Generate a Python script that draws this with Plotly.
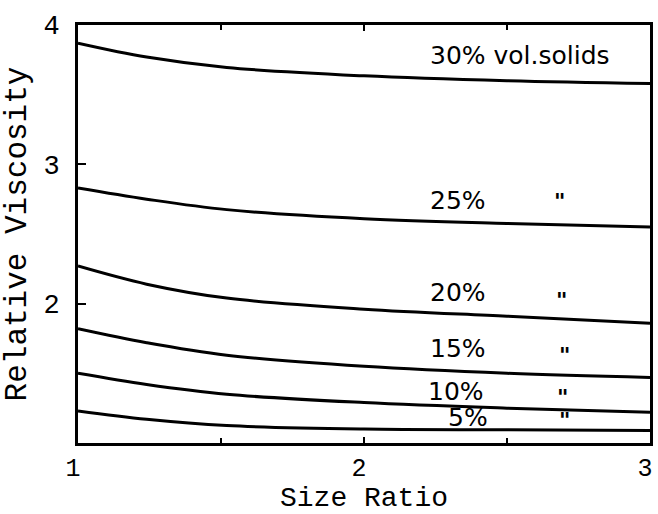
import plotly.graph_objects as go

# Size ratio sample positions shared by all curves
size_ratio = [1.0, 1.24, 1.52, 2.0, 2.5, 3.0]

# Relative viscosity for each solids concentration
visc_30 = [3.87, 3.77, 3.695, 3.635, 3.60, 3.58]
visc_25 = [2.83, 2.75, 2.675, 2.61, 2.575, 2.55]
visc_20 = [2.27, 2.14, 2.04, 1.96, 1.91, 1.86]
visc_15 = [1.82, 1.72, 1.63, 1.55, 1.50, 1.47]
visc_10 = [1.50, 1.42, 1.35, 1.29, 1.25, 1.22]
visc_05 = [1.23, 1.17, 1.125, 1.10, 1.095, 1.09]

# Curve labels and where they sit
label_text = ["30% vol.solids", "25%", "20%", "15%", "10%", "5%"]
label_x = [2.224, 2.224, 2.224, 2.224, 2.217, 2.287]
label_y = [3.78, 2.74, 2.08, 1.68, 1.37, 1.18]
ditto_x = [2.683, 2.69, 2.70, 2.695, 2.70]
ditto_y = [2.73, 2.02, 1.63, 1.33, 1.165]

x_ticks = [1, 2, 3]
y_ticks = [2, 3, 4]

mono = "Liberation Mono, Courier New, monospace"
hand = "DejaVu Sans, Noto Sans, sans-serif"

fig = go.Figure()
for series in [visc_30, visc_25, visc_20, visc_15, visc_10, visc_05]:
    fig.add_trace(go.Scatter(
        x=size_ratio, y=series, mode="lines",
        line=dict(color="black", width=3, shape="spline", smoothing=1.0),
        showlegend=False, hoverinfo="skip",
    ))

for t, x, y in zip(label_text, label_x, label_y):
    fig.add_annotation(x=x, y=y, text=t, showarrow=False, xanchor="left",
                       yanchor="middle",
                       font=dict(family=hand, size=25, color="black"))
for x, y in zip(ditto_x, ditto_y):
    fig.add_annotation(x=x, y=y, text="<b>\"</b>", showarrow=False,
                       xanchor="center", yanchor="middle",
                       font=dict(family=hand, size=22, color="black"))

# Horizontal axis title, set just below the tick labels
fig.add_annotation(x=0.5, y=0, xref="paper", yref="paper", yshift=-55,
                   text="Size Ratio", showarrow=False, xanchor="center",
                   yanchor="middle", font=dict(family=mono, size=28))

fig.update_layout(
    width=658, height=514,
    margin=dict(l=78, r=5, t=25, b=71),
    paper_bgcolor="white", plot_bgcolor="white",
    font=dict(family=mono, color="black"),
)
fig.update_xaxes(
    range=[1, 3], tickvals=x_ticks, ticktext=[str(v) for v in x_ticks],
    ticks="inside", ticklen=6, tickwidth=2, tickcolor="black",
    minor=dict(dtick=0.5, ticks="inside", ticklen=5, tickwidth=2,
               tickcolor="black"),
    showline=True, linecolor="black", linewidth=3, mirror="ticks",
    showgrid=False, zeroline=False,
    tickfont=dict(family=mono, size=25), ticklabelshift=-5,
    ticklabeloverflow="allow", ticklabelstandoff=0,
)
fig.update_yaxes(
    range=[1, 4], tickvals=y_ticks, ticktext=[str(v) for v in y_ticks],
    ticks="inside", ticklen=8, tickwidth=2, tickcolor="black",
    showline=True, linecolor="black", linewidth=3, mirror=True,
    showgrid=False, zeroline=False,
    tickfont=dict(family=mono, size=27), ticklabelstandoff=10,
    ticklabeloverflow="allow",
    title=dict(text="Relative Viscosity", font=dict(family=mono, size=31),
               standoff=8),
)

fig.write_html("out.html")
